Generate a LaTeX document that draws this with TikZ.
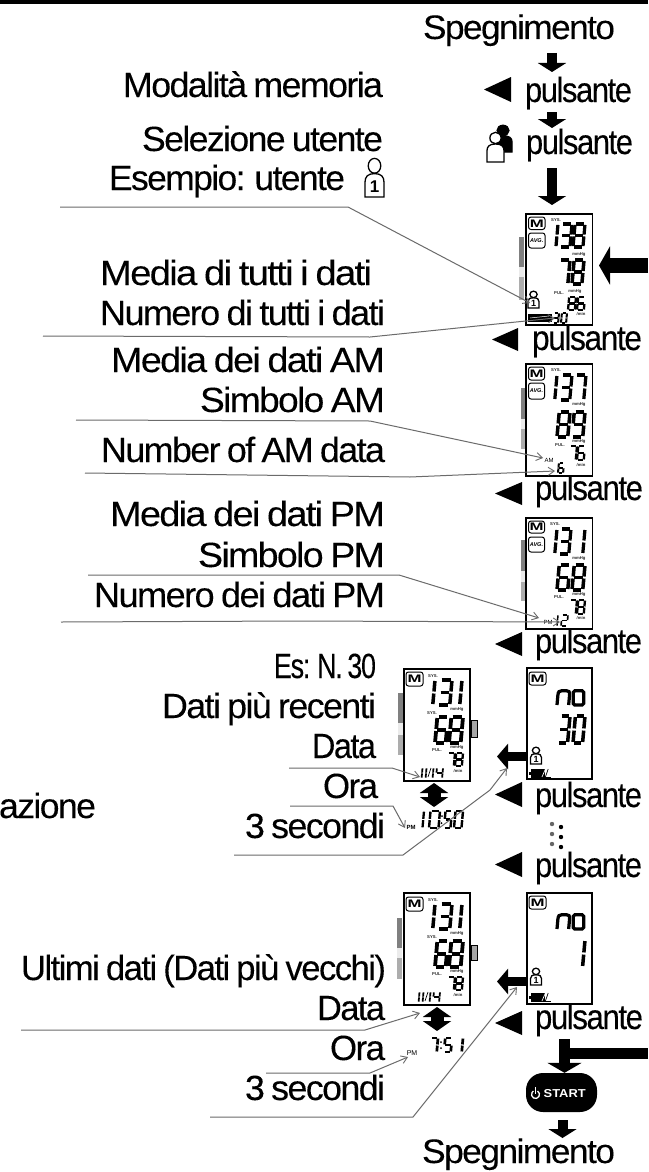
\documentclass[tikz,border=0pt]{standalone}
\usepackage{fontspec}
\usepackage{graphicx}
\setmainfont{Liberation Sans}[LetterSpace=-4.5,WordSpace=0.75,FakeBold=0.12]
\newfontfamily\smallfont{Liberation Sans}
\usetikzlibrary{arrows.meta,calc}
\newcounter{tl}
\tikzset{
  lbl/.style={anchor=base east,inner sep=0pt,outer sep=0pt,font=\fontsize{35}{35}\selectfont,text=black},
  lblk/.style={lbl,font=\fontsize{34}{34}\selectfont},
  tinylbl/.style={inner sep=0pt,font=\smallfont\bfseries\fontsize{4.2}{4.2}\selectfont,text=black!85},
  lcdbox/.style={draw=black,line width=1.1pt,fill=white,inner sep=0pt,outer sep=0pt},
  keybox/.style={draw=black,line width=1pt,rounded corners=2.5pt,fill=white,inner sep=0pt,outer sep=0pt},
  call/.style={draw=black!58,line width=1pt,-{Straight Barb[length=6pt,width=8pt,line width=0.9pt]}},
  downarrow/.style={draw=black,line width=10pt,-{Triangle[length=9pt,width=28pt]}},
  bigleft/.style={draw=black,line width=15pt,-{Triangle[length=11pt,width=38pt]}},
  midleft/.style={draw=black,line width=9pt,-{Triangle[length=11pt,width=25pt]}},
  twoway/.style={draw=black,line width=13pt,{Triangle[length=10pt,width=28pt]}-{Triangle[length=10pt,width=28pt]}},
}
\newcommand\WD[2]{\resizebox{#1pt}{\height}{#2}}
% seven segment digit: x, y(top), w, h, line width, digit
\newcommand\LD[6]{\begin{scope}[shift={({#1+0.09*#4},#2)},x={({#3pt-0.09*#4pt},0pt)},y={({-0.09*#4pt},{-#4pt})},line width=1.35*#5pt,black]\csname dg#6\endcsname\end{scope}}
\def\sa{\draw (.12,0)--(.88,0);}
\def\sb{\draw (1,.04)--(1,.46);}
\def\sc{\draw (1,.54)--(1,.96);}
\def\sd{\draw (.12,1)--(.88,1);}
\def\se{\draw (0,.54)--(0,.96);}
\def\sf{\draw (0,.04)--(0,.46);}
\def\sg{\draw (.12,.5)--(.88,.5);}
\expandafter\def\csname dg0\endcsname{\sa\sb\sc\sd\se\sf}
\expandafter\def\csname dg1\endcsname{\sb\sc}
\expandafter\def\csname dg2\endcsname{\sa\sb\sg\se\sd}
\expandafter\def\csname dg3\endcsname{\sa\sb\sg\sc\sd}
\expandafter\def\csname dg4\endcsname{\sf\sg\sb\sc}
\expandafter\def\csname dg5\endcsname{\sa\sf\sg\sc\sd}
\expandafter\def\csname dg6\endcsname{\sa\sf\sg\sc\sd\se}
\expandafter\def\csname dg7\endcsname{\sa\sb\sc}
\expandafter\def\csname dg8\endcsname{\sa\sb\sc\sd\se\sf\sg}
\expandafter\def\csname dg9\endcsname{\sa\sb\sc\sd\sf\sg}
\expandafter\def\csname dgn\endcsname{\draw (0,1)--(0,.35) .. controls (0,.1) and (.1,.05) .. (.3,.05) -- (.7,.05) .. controls (.9,.05) and (1,.1) .. (1,.35) -- (1,1);}
\expandafter\def\csname dgo\endcsname{\draw[rounded corners=1.5pt] (0,.05) rectangle (1,1);}
\newcommand\TL[3]{\stepcounter{tl}\node[tinylbl] (tl\arabic{tl}) at (#1,#2) {#3};}
\newcommand\LCD[5]{\node[lcdbox,minimum width=#4pt-#2pt,minimum height=#5pt-#3pt] (#1) at ({(#2+#4)/2},{(#3+#5)/2}) {};}
\newcommand\KEY[6]{\node[keybox,minimum width=#4pt-#2pt,minimum height=#5pt-#3pt] (#1) at ({(#2+#4)/2},{(#3+#5)/2}) {#6};}
\newcommand\MK{\smallfont\fontsize{12}{12}\bfseries\selectfont\resizebox{14pt}{7.5pt}{M}}
\newcommand\AVGK{\smallfont\fontsize{5.5}{5.5}\bfseries\itshape\selectfont AVG.}
\newcommand\BAR[7]{% x, y1,y2,y3,y4, tiny x, offset
  \fill[black!50] (#1,#2) rectangle ({#1+4.5},#3);
  \fill[black!8] (#1,#3) rectangle ({#1+4.5},#4);
  \fill[black!32] (#1,#4) rectangle ({#1+4.5},#5);
  \fill[black] (#6,{#3+#7}) rectangle ({#6+2.8},{#4+#7});}
\newcommand\TRI[4]{\fill[black] (#1,#3) -- (#2,{(#3+#4)/2}) -- (#1,#4) -- cycle;}
% user icon: x,y,w,h
\newcommand\USERBODY[5]{\begin{scope}[shift={(#1,#2)},x={(#3pt,0pt)},y={(0pt,{-#4pt})}]
 \draw[line width=1.3pt,#5] (.5,.2) ellipse [x radius=.33,y radius=.19];
 \draw[line width=1.3pt,#5] (0,1)--(0,.62) .. controls (0,.48) and (.15,.4) .. (.5,.4) .. controls (.85,.4) and (1,.48) .. (1,.62) -- (1,1) -- cycle;
 \end{scope}}
\newcommand\USERONE[5]{\USERBODY{#2}{#3}{#4}{#5}{fill=white,draw=black}
 \stepcounter{tl}\node[inner sep=0pt,font=\smallfont\bfseries\fontsize{#1}{#1}\selectfont] (tl\arabic{tl}) at ({#2+#4/2},{#3+0.73*#5}) {1};}
\newcommand\BATT[4]{% x,y,w,h
 \fill[black] (#1,#2) rectangle ({#1+0.72*#3},{#2+#4});
 \draw[black,line width=.8pt] (#1,{#2+#4}) -- ({#1+#3},{#2+#4});
 \draw[white,line width=.7pt] ({#1+0.55*#3},{#2+#4}) -- ({#1+0.72*#3},#2);
 \draw[black,line width=.7pt] ({#1+0.72*#3},{#2+#4}) -- ({#1+0.86*#3},#2);}
\newcommand\CONN[4]{\coordinate (#1a) at #2; \coordinate (#1b) at #3; \coordinate (#1c) at #4;
 \draw[call] (#1a) -- (#1b) -- (#1c);}
\begin{document}
\begin{tikzpicture}[x=1pt,y=-1pt]
\useasboundingbox (0,0) rectangle (648,1172);
\fill[white] (0,0) rectangle (648,1172);
\fill[black] (0,0) rectangle (648,4);

% ---- right column texts
\node[lblk] (off1) at (615,39) {\WD{192}{Spegnimento}};
\node[lbl] (p1) at (632,102) {\WD{107}{pulsante}};
\node[lbl] (p2) at (633,154) {\WD{107}{pulsante}};
\node[lbl] (p3) at (642,350) {\WD{110}{pulsante}};
\node[lbl] (p4) at (643,500) {\WD{108}{pulsante}};
\node[lbl] (p5) at (642,653) {\WD{107}{pulsante}};
\node[lbl] (p6) at (642,807) {\WD{107}{pulsante}};
\node[lbl] (p7) at (642,877) {\WD{107}{pulsante}};
\node[lbl] (p8) at (643,1029) {\WD{108}{pulsante}};
\node[lblk] (off2) at (615,1163) {\WD{193}{Spegnimento}};

\TRI{511}{484}{77}{102}
\TRI{518}{492}{328}{351}
\TRI{522}{495}{482}{505}
\TRI{522}{495}{632}{656}
\TRI{522}{495}{782}{807}
\TRI{522}{495}{852}{877}
\TRI{522}{495}{1011}{1035}

% ---- vertical arrows
\coordinate (a1s) at (552,53); \coordinate (a1e) at (552,72);
\draw[downarrow] (a1s) -- (a1e);
\coordinate (a2s) at (552,112); \coordinate (a2e) at (552,128);
\draw[downarrow] (a2s) -- (a2e);
\coordinate (a3s) at (552,168); \coordinate (a3e) at (552,205);
\draw[downarrow] (a3s) -- (a3e);

% double user icon
\USERBODY{494}{125}{18}{27}{fill=black,draw=black}
\USERBODY{487}{132}{17}{30}{fill=white,draw=black}

% ---- left labels
\node[lbl] (t1) at (383,97) {\WD{260}{Modalità memoria}};
\node[lbl] (t2) at (383,151) {\WD{241}{Selezione utente}};
\node[lbl] (t3) at (345,190) {\WD{236}{Esempio: utente}};
\USERONE{17}{365}{158}{19}{39}
\node[lbl] (t4) at (372,285) {\WD{272}{Media di tutti i dati}};
\node[lbl] (t5) at (385,325) {\WD{285}{Numero di tutti i dati}};
\node[lbl] (t6) at (385,372) {\WD{274}{Media dei dati AM}};
\node[lbl] (t7) at (385,412) {\WD{185}{Simbolo AM}};
\node[lbl] (t8) at (385,462) {\WD{284}{Number of AM data}};
\node[lbl] (t9) at (385,526) {\WD{275}{Media dei dati PM}};
\node[lbl] (t10) at (385,567) {\WD{187}{Simbolo PM}};
\node[lbl] (t11) at (385,607) {\WD{291}{Numero dei dati PM}};
\node[lbl] (t12) at (376,678) {\WD{102}{Es: N. 30}};
\node[lbl] (t13) at (376,718) {\WD{214}{Dati più recenti}};
\node[lbl] (t14) at (376,758) {\WD{64}{Data}};
\node[lbl] (t15) at (378,798) {\WD{55}{Ora}};
\node[lbl] (t16) at (385,838) {\WD{140}{3 secondi}};
\node[lbl] (t17) at (96,818) {\WD{97}{azione}};
\node[lbl] (t18) at (386,980) {\WD{365}{Ultimi dati (Dati più vecchi)}};
\node[lbl] (t19) at (385,1020) {\WD{68}{Data}};
\node[lbl] (t20) at (385,1060) {\WD{55}{Ora}};
\node[lbl] (t21) at (385,1100) {\WD{140}{3 secondi}};

% ---- LCD 1
\BAR{519}{237}{267}{277}{300}{529}{1}
\LCD{lcd1}{526}{214}{592.5}{325}
\KEY{m1}{528.5}{217}{545}{229.5}{\MK}
\KEY{v1}{528.5}{233}{545}{248}{\AVGK}
\TL{556}{220}{SYS.}
\LD{553}{224}{5}{23}{2.4}{1}\LD{560}{224}{12}{23}{2.4}{3}\LD{573}{224}{12}{23}{2.4}{8}
\TL{579}{254}{mmHg}
\LD{558}{260}{12}{24}{2.6}{7}\LD{572}{260}{12}{24}{2.6}{8}
\TL{559}{293}{PUL.}\TL{575}{291}{mmHg}
\LD{568}{297}{8}{13}{1.7}{8}\LD{577}{297}{8}{13}{1.7}{6}
\TL{581}{314}{/min}
\USERONE{9}{528}{291}{11}{17}
\fill[black] (528,314) rectangle (552,322);
\draw[white,line width=.5pt] (530,318)--(549,316);
\LD{553}{313}{6}{10}{1.5}{3}\LD{561}{313}{6}{10}{1.5}{0}

% ---- LCD 2
\BAR{520.5}{388}{419}{429}{449}{529}{0}
\LCD{lcd2}{526}{364}{592.5}{476}
\KEY{m2}{528.5}{367}{544.5}{380}{\MK}
\KEY{v2}{528.5}{383}{544.5}{399}{\AVGK}
\TL{556}{370}{SYS.}
\LD{552}{375}{5}{25}{2.4}{1}\LD{560}{375}{12}{25}{2.4}{3}\LD{574}{375}{12}{25}{2.4}{7}
\TL{579}{404}{mmHg}
\LD{557}{412}{13}{25}{2.6}{8}\LD{572}{412}{13}{25}{2.6}{9}
\TL{560}{445}{PUL.}\TL{579}{441}{mmHg}
\LD{569}{446}{8}{14}{1.7}{7}\LD{577}{446}{8}{14}{1.7}{6}
\TL{581}{465}{/min}
\node[inner sep=0pt,font=\smallfont\fontsize{6}{6}\selectfont] (am) at (549,460) {AM};
\LD{558}{463}{6}{10}{1.5}{6}

% ---- LCD 3
\BAR{520.5}{540}{571}{582}{601}{529}{0}
\LCD{lcd3}{526}{518}{592.5}{629}
\KEY{m3}{528.5}{521}{544.5}{533}{\MK}
\KEY{v3}{528.5}{537}{544.5}{552}{\AVGK}
\TL{555}{524}{SYS.}
\LD{552}{529}{5}{25}{2.4}{1}\LD{559}{529}{12}{25}{2.4}{3}\LD{580}{529}{5}{25}{2.4}{1}
\TL{579}{558}{mmHg}
\LD{557}{565}{13}{25}{2.6}{6}\LD{572}{565}{13}{25}{2.6}{8}
\TL{559}{597}{PUL.}\TL{579}{594}{mmHg}
\LD{569}{600}{8}{14}{1.7}{7}\LD{577}{600}{8}{14}{1.7}{8}
\TL{581}{618}{/min}
\node[inner sep=0pt,font=\smallfont\fontsize{6}{6}\selectfont] (pm3) at (548,622) {PM};
\LD{555}{615}{3}{11}{1.1}{1}\LD{561}{615}{7}{11}{1.2}{2}

% ---- LCD 4
\BAR{398}{693}{723}{735}{755}{407}{0}
\node[lcdbox,line width=.9pt,fill=black!35,minimum width=6pt,minimum height=17pt] (side4) at (474.5,728.5) {};
\LCD{lcd4}{404}{669}{470}{781}
\KEY{m4}{406}{672}{423}{686}{\MK}
\TL{433}{676}{SYS.}
\LD{430}{680}{5}{25}{2.6}{1}\LD{438}{680}{14}{25}{2.6}{3}\LD{457}{680}{5}{25}{2.6}{1}
\TL{457}{709}{mmHg}\TL{432}{713}{SYS.}
\LD{435}{717}{13}{26}{2.8}{6}\LD{449}{717}{14}{26}{2.8}{8}
\TL{437}{750}{PUL.}\TL{457}{747}{mmHg}
\LD{447}{753}{8}{13}{1.7}{7}\LD{455}{753}{8}{13}{1.7}{8}
\TL{458}{771}{/min}
\LD{420}{768}{2.5}{10}{1.3}{1}\LD{424}{768}{2.5}{10}{1.3}{1}
\draw[black,line width=.7pt] (428,777)--(431,768);
\LD{431}{768}{2.5}{10}{1.3}{1}\LD{436}{768}{7}{10}{1.3}{4}
\node[inner sep=0pt,font=\smallfont\bfseries\fontsize{6}{6}\selectfont] (pm4) at (411,827) {PM};
\LD{421}{811}{3}{17}{1.7}{1}\LD{429}{811}{11}{17}{1.8}{0}
\fill[black] (442,816) circle (1pt) (441.5,823) circle (1pt);
\LD{444}{811}{8}{17}{1.8}{5}\LD{454}{811}{9}{17}{1.8}{0}

% ---- LCD 5
\LCD{lcd5}{527}{668}{592}{779}
\KEY{m5}{529}{672}{546}{685}{\MK}
\LD{557}{690}{13}{15}{2.4}{n}\LD{572}{690}{13}{15}{2.4}{o}
\LD{558}{716}{12}{27}{2.6}{3}\LD{573}{716}{12}{27}{2.6}{0}
\USERONE{9}{530.5}{747}{11}{17}
\BATT{531}{769}{20}{8}
\fill[black] (529,771.5) rectangle (531,774.5);

% ---- dots
\foreach \nm/\dx/\dy/\col in {d1/552/824/black!60,d2/561/827/black,d3/552/834/black!60,d4/561/837/black,d5/552/844/black!60,d6/561/847/black}{
  \fill[\col] (\dx,\dy) circle (2.2pt);
}

% ---- LCD 6
\BAR{397}{918}{948}{958}{979}{406}{0}
\node[lcdbox,line width=.9pt,fill=black!35,minimum width=6pt,minimum height=15pt] (side6) at (474.5,952.5) {};
\LCD{lcd6}{404}{893}{470}{1005}
\KEY{m6}{406}{897}{423}{911}{\MK}
\TL{433}{900}{SYS.}
\LD{430}{904}{5}{25}{2.6}{1}\LD{438}{904}{14}{25}{2.6}{3}\LD{457}{904}{5}{25}{2.6}{1}
\TL{457}{933}{mmHg}\TL{432}{937}{SYS.}
\LD{435}{941}{13}{26}{2.8}{6}\LD{449}{941}{14}{26}{2.8}{8}
\TL{437}{974}{PUL.}\TL{457}{971}{mmHg}
\LD{447}{977}{8}{13}{1.7}{7}\LD{455}{977}{8}{13}{1.7}{8}
\TL{458}{995}{/min}
\LD{417}{992}{2.5}{10}{1.3}{1}\LD{421}{992}{2.5}{10}{1.3}{1}
\draw[black,line width=.7pt] (425,1001)--(428,992);
\LD{428}{992}{2.5}{10}{1.3}{1}\LD{433}{992}{7}{10}{1.3}{4}
\node[inner sep=0pt,font=\smallfont\fontsize{7}{7}\selectfont] (pm6) at (412,1053) {PM};
\LD{430}{1038}{8}{14}{2}{7}
\fill[black] (441,1042) circle (1pt) (441,1048) circle (1pt);
\LD{444}{1038}{8}{14}{2}{5}\LD{458}{1038}{5}{14}{2}{1}

% ---- LCD 7
\LCD{lcd7}{527}{893}{592}{1004}
\KEY{m7}{529}{896}{546}{909}{\MK}
\LD{557}{914}{13}{15}{2.4}{n}\LD{572}{914}{13}{15}{2.4}{o}
\LD{572}{940}{13}{27}{2.6}{1}
\USERONE{9}{530.5}{968}{11}{17}
\BATT{531}{993}{20}{8}
\fill[black] (529,995.5) rectangle (531,998.5);

% ---- block arrows
\coordinate (b1s) at (648,265.5); \coordinate (b1e) at (599,265.5);
\draw[bigleft] (b1s) -- (b1e);
\draw[midleft] (lcd5.west |- 0,756.5) -- ($(lcd5.west |- 0,756.5)+(-30,0)$);
\draw[midleft] (lcd7.west |- 0,981.5) -- ($(lcd7.west |- 0,981.5)+(-30,0)$);
\coordinate (u4a) at (434,783); \coordinate (u4b) at (434,807);
\draw[twoway] (u4a) -- (u4b);
\coordinate (u6a) at (437,1007); \coordinate (u6b) at (437,1031);
\draw[twoway] (u6a) -- (u6b);

% ---- START
\node[fill=black,rounded corners=17pt,minimum width=71pt,minimum height=39pt,inner sep=0pt] (start) at (561.5,1092.5) {};
\node[inner sep=0pt,anchor=base west,text=white,font=\smallfont\bfseries\fontsize{11.5}{11.5}\selectfont] (starttxt) at (543.5,1097) {\WD{42}{START}};
\draw[white,line width=1.3pt] (537.5,1091) arc[start angle=60,end angle=-240,radius=4pt];
\draw[white,line width=1.3pt] (535.5,1087) -- (535.5,1094);
\coordinate (s1) at (648,1053.5); \coordinate (s2) at (559,1053.5);
\draw[black,line width=11pt] (s1) -- (s2);
\coordinate (s3) at (564.5,1039);
\draw[black,line width=11pt,-{Triangle[length=10pt,width=34pt]}] (s3) -- (s3 |- start.north);
\coordinate (s4) at (562.5,1120); \coordinate (s5) at (562.5,1138);
\draw[downarrow] (s4) -- (s5);

% ---- callout lines
\CONN{l1}{(60,207)}{(348,207)}{(530,303)}
\CONN{l2}{(43,336)}{(370,337)}{(555,318)}
\CONN{l3}{(76,420)}{(370,421)}{(543,458)}
\CONN{l4}{(85,473)}{(410,477)}{(555,471)}
\CONN{l5}{(88,575)}{(399,575)}{(539,618)}
\CONN{l6}{(61,622)}{(300,621)}{(560,622)}
\CONN{l7}{(289,768)}{(392,768)}{(420,777)}
\CONN{l8}{(290,806)}{(393,806)}{(405,828)}
\coordinate (l9a) at (234,855); \coordinate (l9b) at (403,855); \coordinate (l9c) at (490,790); \coordinate (l9d) at (507,768);
\draw[call] (l9a) -- (l9b) -- (l9c) -- (l9d);
\CONN{l10}{(21,1030)}{(365,1030)}{(420,1013)}
\CONN{l11}{(266,1073)}{(370,1073)}{(408,1057)}
\CONN{l12}{(210,1117)}{(413,1117)}{(517,987)}
\end{tikzpicture}
\end{document}
